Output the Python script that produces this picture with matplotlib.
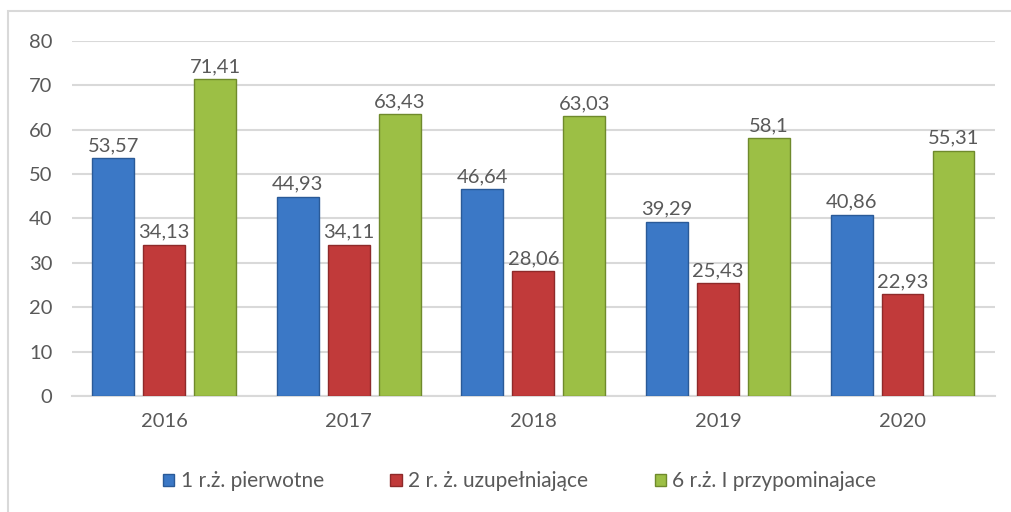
import matplotlib.pyplot as plt
import numpy as np
from matplotlib.patches import Rectangle

years = ["2016", "2017", "2018", "2019", "2020"]
pierwotne = [53.57, 44.93, 46.64, 39.29, 40.86]
uzupelniajace = [34.13, 34.11, 28.06, 25.43, 22.93]
przypominajace = [71.41, 63.43, 63.03, 58.1, 55.31]
labels = ["1 r.ż. pierwotne", "2 r. ż. uzupełniające", "6 r.ż. I przypominajace"]

colors = ["#3b78c6", "#c13a3a", "#9cbf45"]
edges = ["#2a5a98", "#8e2a2a", "#6f8a2c"]
text_color = "#595959"

plt.rcParams["font.family"] = ["Lato", "DejaVu Sans"]

fig = plt.figure(figsize=(10.11, 5.12), dpi=100)
ax = fig.add_axes([0.071, 0.2266, 0.913, 0.6934])

# chart border (left and top only visible in the reference)
fig.patches.append(Rectangle((0.008, -0.05), 1.2, 1.029, transform=fig.transFigure,
                             fill=False, edgecolor="#d9d9d9", linewidth=1.5))

x = np.arange(len(years))
width = 0.227
step = 0.276
series = [pierwotne, uzupelniajace, przypominajace]

for i, (vals, lab) in enumerate(zip(series, labels)):
    pos = x + (i - 1) * step
    ax.bar(pos, vals, width, color=colors[i], edgecolor=edges[i], linewidth=1,
           label=lab, zorder=3)
    for px, v in zip(pos, vals):
        txt = f"{v:g}".replace(".", ",")
        ax.text(px, v + 0.9, txt, ha="center", va="bottom", fontsize=14.5,
                color=text_color, zorder=4)

ax.set_xlim(-0.5, 4.5)
ax.set_ylim(0, 80)
ax.set_yticks(range(0, 81, 10))
ax.set_xticks(x)
ax.set_xticklabels(years)
ax.tick_params(axis="both", length=0, labelsize=14.5, colors=text_color)
ax.tick_params(axis="y", pad=14)
ax.tick_params(axis="x", pad=12)
ax.grid(axis="y", color="#d9d9d9", linewidth=1.5, zorder=0)
for s in ["top", "right", "left"]:
    ax.spines[s].set_visible(False)
ax.spines["bottom"].set_color("#d9d9d9")
ax.spines["bottom"].set_linewidth(1.5)

fig.legend(loc="center", bbox_to_anchor=(0.514, 0.06), ncol=3, frameon=False,
           fontsize=15, handlelength=0.55, handleheight=0.55, handletextpad=0.3,
           columnspacing=3.2, labelcolor=text_color)

fig.savefig("out.png", dpi=100)
